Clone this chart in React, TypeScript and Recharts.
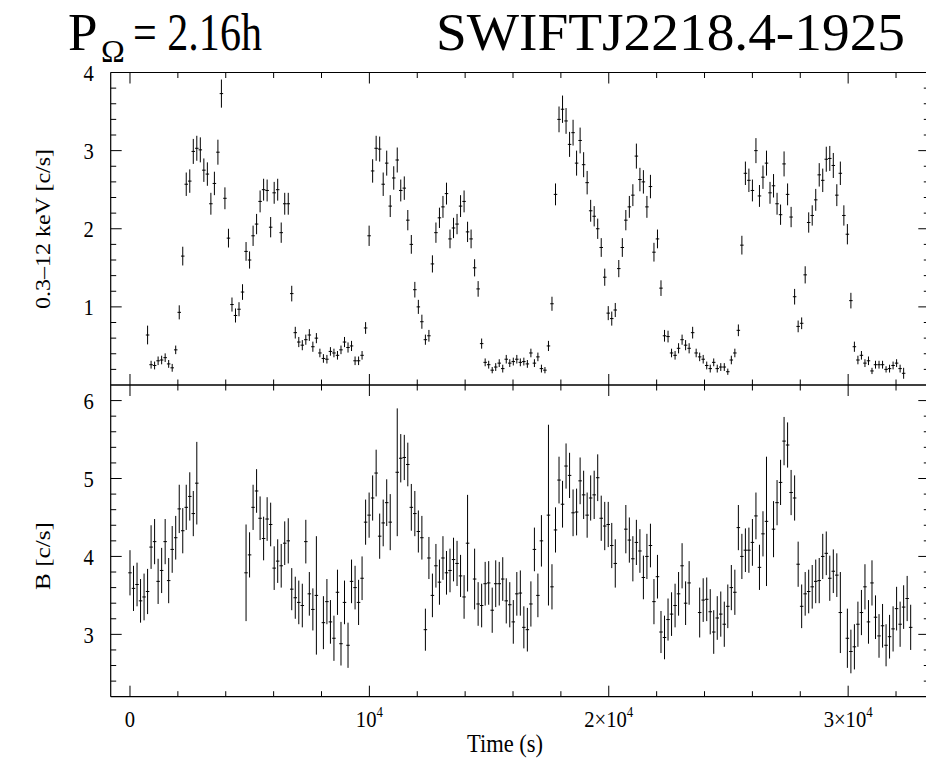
import React from 'react';
import { ScatterChart, Scatter, XAxis, YAxis, ErrorBar } from 'recharts';

// Bin centre times (s), one per 146.9 s bin
const binTime = [
  0, 147, 294, 441, 588, 735, 881, 1028, 1175, 1322,
  1469, 1616, 1763, 1910, 2057, 2204, 2350, 2497, 2644, 2791,
  2938, 3085, 3232, 3379, 3526, 3673, 3819, 3966, 4113, 4260,
  4407, 4554, 4701, 4848, 4995, 5142, 5288, 5435, 5582, 5729,
  5876, 6023, 6170, 6317, 6464, 6611, 6757, 6904, 7051, 7198,
  7345, 7492, 7639, 7786, 7933, 8080, 8226, 8373, 8520, 8667,
  8814, 8961, 9108, 9255, 9402, 9549, 9695, 9842, 9989, 10136,
  10283, 10430, 10577, 10724, 10871, 11018, 11164, 11311, 11458, 11605,
  11752, 11899, 12046, 12193, 12340, 12487, 12633, 12780, 12927, 13074,
  13221, 13368, 13515, 13662, 13809, 13956, 14102, 14249, 14396, 14543,
  14690, 14837, 14984, 15131, 15278, 15425, 15571, 15718, 15865, 16012,
  16159, 16306, 16453, 16600, 16747, 16894, 17040, 17187, 17334, 17481,
  17628, 17775, 17922, 18069, 18216, 18363, 18509, 18656, 18803, 18950,
  19097, 19244, 19391, 19538, 19685, 19832, 19978, 20125, 20272, 20419,
  20566, 20713, 20860, 21007, 21154, 21301, 21447, 21594, 21741, 21888,
  22035, 22182, 22329, 22476, 22623, 22770, 22916, 23063, 23210, 23357,
  23504, 23651, 23798, 23945, 24092, 24239, 24385, 24532, 24679, 24826,
  24973, 25120, 25267, 25414, 25561, 25708, 25854, 26001, 26148, 26295,
  26442, 26589, 26736, 26883, 27030, 27177, 27323, 27470, 27617, 27764,
  27911, 28058, 28205, 28352, 28499, 28646, 28792, 28939, 29086, 29233,
  29380, 29527, 29674, 29821, 29968, 30115, 30261, 30408, 30555, 30702,
  30849, 30996, 31143, 31290, 31437, 31584, 31730, 31877, 32024, 32171,
  32318, 32465, 32612,
];
const halfBin = 73;

// 0.3-12 keV rate (c/s)
const xrtRate = [
  null, null, null, null, null, 0.64, 0.26, 0.25, 0.31, 0.32,
  0.35, 0.27, 0.22, 0.45, 0.93, 1.65, 2.57, 2.61, 2.99, 3.03,
  3.01, 2.75, 2.70, 2.32, 2.58, 2.98, 3.73, 2.39, 1.88, 1.03,
  0.89, 0.97, 1.19, 1.71, 1.60, 1.91, 2.06, 2.35, 2.50, 2.49,
  2.02, 2.46, 2.50, 1.95, 2.32, 2.32, 1.17, 0.67, 0.55, 0.51,
  0.58, 0.64, 0.49, 0.60, 0.41, 0.34, 0.33, 0.43, 0.41, 0.38,
  0.45, 0.55, 0.48, 0.50, 0.31, 0.31, 0.38, 0.73, 1.91, 2.74,
  3.03, 3.02, 2.57, 2.84, 2.29, 2.65, 2.88, 2.49, 2.52, 2.11,
  1.80, 1.22, 1.00, 0.81, 0.58, 0.63, 1.55, 1.95, 2.14, 2.28,
  2.45, 1.87, 2.01, 2.06, 2.29, 2.35, 1.96, 1.87, 1.50, 1.23,
  0.53, 0.29, 0.26, 0.19, 0.23, 0.28, 0.21, 0.33, 0.28, 0.30,
  0.33, 0.29, 0.30, 0.27, 0.41, 0.28, 0.36, 0.21, 0.19, 0.50,
  1.04, 2.44, 3.40, 3.53, 3.38, 3.08, 3.23, 2.84, 3.13, 2.82,
  2.59, 2.23, 2.16, 2.00, 1.76, 1.38, 0.92, 0.85, 0.96, 1.49,
  1.76, 2.11, 2.28, 2.43, 2.93, 2.63, 2.60, 2.28, 2.54, 1.70,
  1.87, 1.24, 0.63, 0.62, 0.41, 0.38, 0.47, 0.58, 0.51, 0.47,
  0.67, 0.41, 0.36, 0.33, 0.25, 0.21, 0.29, 0.21, 0.23, 0.23,
  0.17, 0.32, 0.41, 0.70, 1.79, 2.71, 2.62, 2.49, 3.00, 2.42,
  2.66, 2.84, 2.46, 2.55, 2.32, 2.18, 2.83, 2.44, 2.15, 1.13,
  0.75, 0.79, 1.41, 2.08, 2.17, 2.37, 2.69, 2.62, 2.89, 2.90,
  2.81, 2.43, 2.71, 2.17, 1.93, 1.08, 0.49, 0.32, 0.38, 0.28,
  0.31, 0.18, 0.26, 0.26, 0.26, 0.20, 0.21, 0.25, 0.28, 0.21,
  0.15, null, null,
];
const xrtErr = [
  null, null, null, null, null, 0.12, 0.05, 0.05, 0.055, 0.055,
  0.055, 0.05, 0.05, 0.055, 0.09, 0.12, 0.15, 0.15, 0.16, 0.16,
  0.16, 0.15, 0.15, 0.14, 0.15, 0.16, 0.18, 0.14, 0.12, 0.09,
  0.09, 0.09, 0.10, 0.12, 0.11, 0.13, 0.13, 0.14, 0.14, 0.14,
  0.13, 0.14, 0.14, 0.13, 0.14, 0.14, 0.10, 0.075, 0.065, 0.065,
  0.065, 0.075, 0.065, 0.065, 0.055, 0.055, 0.055, 0.055, 0.055, 0.055,
  0.055, 0.065, 0.065, 0.065, 0.055, 0.055, 0.055, 0.075, 0.13, 0.15,
  0.16, 0.16, 0.15, 0.16, 0.14, 0.15, 0.16, 0.14, 0.15, 0.13,
  0.12, 0.10, 0.09, 0.09, 0.065, 0.075, 0.11, 0.13, 0.13, 0.14,
  0.14, 0.12, 0.13, 0.13, 0.14, 0.14, 0.13, 0.12, 0.11, 0.10,
  0.065, 0.05, 0.05, 0.04, 0.05, 0.05, 0.05, 0.055, 0.05, 0.05,
  0.055, 0.05, 0.05, 0.05, 0.055, 0.05, 0.055, 0.05, 0.04, 0.065,
  0.09, 0.14, 0.165, 0.175, 0.165, 0.16, 0.165, 0.16, 0.165, 0.16,
  0.15, 0.14, 0.13, 0.13, 0.12, 0.11, 0.09, 0.09, 0.09, 0.11,
  0.12, 0.13, 0.14, 0.14, 0.16, 0.15, 0.15, 0.14, 0.15, 0.12,
  0.12, 0.10, 0.075, 0.075, 0.055, 0.055, 0.065, 0.065, 0.065, 0.065,
  0.075, 0.055, 0.055, 0.055, 0.05, 0.05, 0.05, 0.05, 0.05, 0.05,
  0.04, 0.055, 0.055, 0.075, 0.12, 0.15, 0.15, 0.14, 0.16, 0.14,
  0.15, 0.16, 0.14, 0.15, 0.14, 0.13, 0.16, 0.14, 0.13, 0.10,
  0.075, 0.075, 0.11, 0.13, 0.13, 0.14, 0.15, 0.15, 0.16, 0.16,
  0.16, 0.14, 0.15, 0.13, 0.13, 0.10, 0.065, 0.055, 0.055, 0.05,
  0.055, 0.04, 0.05, 0.05, 0.05, 0.04, 0.05, 0.05, 0.05, 0.05,
  0.07, null, null,
];

// B band rate (c/s)
const bRate = [
  3.79, 3.59, 3.64, 3.43, 3.48, 3.55, 4.12, 4.19, 3.68, 3.82,
  4.19, 3.69, 4.09, 4.24, 4.61, 4.33, 4.63, 4.77, 4.55, 4.94,
  null, null, null, null, null, null, null, null, null, null,
  null, null, null, 3.79, 4.02, 4.63, 4.84, 4.49, 4.23, 4.48,
  4.41, 3.85, 3.94, 3.88, 4.17, 4.20, 3.58, 3.47, 3.41, 3.37,
  4.19, 3.52, 3.32, 3.50, null, 3.15, 3.42, 3.16, 2.95, 3.54,
  2.88, 3.41, 2.86, 3.68, 3.60, 3.41, 3.72, 4.44, 4.53, 4.75,
  5.07, 4.26, 4.43, 4.69, 4.44, null, 5.08, 5.26, 5.27, 5.18,
  4.63, 4.55, 4.32, 4.24, 3.06, 3.98, 3.50, 3.88, 3.67, 3.98,
  3.79, 3.82, 3.96, 3.91, 3.75, 3.48, 4.17, null, 3.71, 3.39,
  3.37, 3.65, 3.66, 3.31, 3.65, 3.65, 3.71, 3.43, 3.38, 3.16,
  3.52, 3.53, 3.09, 3.06, 3.39, 4.09, 3.50, 4.20, null, 4.53,
  3.61, 4.34, 4.98, 4.67, 5.16, 5.04, 4.56, 4.57, 4.97, 4.79,
  4.53, 4.75, 4.79, 5.01, 4.49, 4.39, 4.41, 4.14, 3.91, null,
  null, 4.35, 4.21, 3.97, 4.18, 4.07, 3.73, 4.00, 4.14, 3.42,
  3.74, 3.03, 2.96, 3.19, 3.26, 3.37, 3.52, 3.88, 3.40, 3.66,
  null, null, 3.28, 3.44, 3.45, 3.29, 3.03, 3.21, 3.26, 3.13,
  3.36, 3.60, 3.54, 4.37, 4.00, 4.08, 4.08, 4.18, 4.52, 3.86,
  4.29, 4.45, null, 4.35, 4.69, 4.95, 5.48, 5.43, 4.82, 4.75,
  3.90, 3.36, 3.52, 3.55, 3.61, 3.68, 3.69, 4.00, 4.04, 3.72,
  3.81, 3.76, 3.28, null, 2.95, 2.78, 2.84, 3.13, 3.28, 3.61,
  3.16, 3.66, 3.22, 2.98, 3.11, 2.86, 2.97, 3.07, 3.33, 3.13,
  3.35, 3.46, 3.09,
];
const bErr = [
  0.29, 0.29, 0.28, 0.28, 0.30, 0.29, 0.28, 0.29, 0.29, 0.29,
  0.29, 0.29, 0.30, 0.28, 0.31, 0.29, 0.29, 0.31, 0.29, 0.53,
  null, null, null, null, null, null, null, null, null, null,
  null, null, null, 0.62, 0.29, 0.29, 0.28, 0.28, 0.28, 0.28,
  0.28, 0.28, 0.28, 0.28, 0.28, 0.29, 0.27, 0.27, 0.28, 0.28,
  0.28, 0.28, 0.27, 0.76, null, 0.34, 0.29, 0.28, 0.29, 0.29,
  0.28, 0.28, 0.29, 0.28, 0.28, 0.29, 0.28, 0.29, 0.29, 0.29,
  0.30, 0.29, 0.30, 0.30, 0.36, null, 0.82, 0.31, 0.29, 0.28,
  0.30, 0.29, 0.27, 0.28, 0.27, 0.27, 0.28, 0.28, 0.29, 0.28,
  0.28, 0.28, 0.28, 0.29, 0.27, 0.28, 0.62, null, 0.39, 0.28,
  0.28, 0.28, 0.28, 0.29, 0.30, 0.28, 0.28, 0.29, 0.29, 0.28,
  0.28, 0.29, 0.27, 0.28, 0.29, 0.28, 0.28, 0.33, null, 1.16,
  0.29, 0.29, 0.30, 0.30, 0.29, 0.29, 0.30, 0.30, 0.30, 0.31,
  0.29, 0.29, 0.31, 0.30, 0.29, 0.31, 0.29, 0.29, 0.31, null,
  null, 0.31, 0.29, 0.29, 0.29, 0.28, 0.28, 0.29, 0.28, 0.29,
  0.28, 0.27, 0.28, 0.27, 0.28, 0.28, 0.28, 0.29, 0.28, 0.28,
  null, null, 0.32, 0.28, 0.28, 0.29, 0.28, 0.28, 0.29, 0.29,
  0.28, 0.29, 0.29, 0.29, 0.29, 0.28, 0.29, 0.30, 0.30, 0.29,
  0.29, 0.83, null, 0.36, 0.29, 0.29, 0.31, 0.29, 0.29, 0.29,
  0.29, 0.28, 0.28, 0.28, 0.28, 0.28, 0.29, 0.29, 0.28, 0.29,
  0.28, 0.28, 0.52, null, 0.38, 0.28, 0.29, 0.29, 0.29, 0.29,
  0.28, 0.29, 0.28, 0.28, 0.28, 0.27, 0.28, 0.29, 0.28, 0.29,
  0.28, 0.29, 0.29,
];

// Axis ticks
const timeTicks = [0, 2000, 4000, 6000, 8000, 10000, 12000, 14000, 16000, 18000, 20000, 22000, 24000, 26000, 28000, 30000, 32000];
const timeMajor = [0, 10000, 20000, 30000];
const timeLabelBase = ['0', '10', '2×10', '3×10'];
const timeLabelExp = ['', '4', '4', '4'];
const xrtTicks = [0.2, 0.4, 0.6, 0.8, 1, 1.2, 1.4, 1.6, 1.8, 2, 2.2, 2.4, 2.6, 2.8, 3, 3.2, 3.4, 3.6, 3.8, 4];
const xrtLabels = [1, 2, 3, 4];
const bTicks = [2.4, 2.6, 2.8, 3, 3.2, 3.4, 3.6, 3.8, 4, 4.2, 4.4, 4.6, 4.8, 5, 5.2, 5.4, 5.6, 5.8, 6];
const bLabels = [3, 4, 5, 6];

const timeDomain: [number, number] = [-806, 33390];
const xrtDomain: [number, number] = [0, 4];
const bDomain: [number, number] = [2.2, 6.2];

const FONT = '"Liberation Serif", "Times New Roman", Times, serif';
const MAJ = 11;
const MIN = 5.5;
const TICK_FS = 24;

function buildRows(rate: (number | null)[], err: (number | null)[]) {
  const rows: { t: number; v: number; ey: number; ex: number }[] = [];
  binTime.forEach((t, i) => {
    const v = rate[i];
    const e = err[i];
    if (v != null && e != null) rows.push({ t, v, ey: e, ex: halfBin });
  });
  return rows;
}

const xrtRows = buildRows(xrtRate, xrtErr);
const bRows = buildRows(bRate, bErr);

const makeXTick = (dir: 1 | -1, withLabels: boolean) => (props: any) => {
  const { x, y, payload } = props;
  const v = payload.value as number;
  const mi = timeMajor.indexOf(v);
  const len = mi >= 0 ? MAJ : MIN;
  return (
    <g>
      <line x1={x} x2={x} y1={y} y2={y + dir * len} stroke="#000" strokeWidth={1} />
      {withLabels && mi >= 0 && (
        <g transform={`translate(${x},${y + 30}) scale(0.86,1)`}>
          <text x={0} y={0} textAnchor="middle" fontFamily={FONT} fontSize={TICK_FS} fill="#000">
            {timeLabelBase[mi]}
            {timeLabelExp[mi] && (
              <tspan dy={-10} fontSize={15}>
                {timeLabelExp[mi]}
              </tspan>
            )}
          </text>
        </g>
      )}
    </g>
  );
};

const makeYTick = (labels: number[]) => (props: any) => {
  const { x, y, payload } = props;
  const v = payload.value as number;
  const major = Number.isInteger(v);
  const len = major ? MAJ : MIN;
  // inward tick on the left frame, and its mirror on the (cropped) right frame
  const mirrorX = PLOT_RIGHT;
  return (
    <g>
      <line x1={x} x2={x + len} y1={y} y2={y} stroke="#000" strokeWidth={1} />
      <line x1={mirrorX} x2={mirrorX - len} y1={y} y2={y} stroke="#000" strokeWidth={1} />
      {labels.indexOf(v) >= 0 && (
        <g transform={`translate(${x - 17},${y}) scale(0.86,1)`}>
          <text x={0} y={0} dy="0.35em" textAnchor="end" fontFamily={FONT} fontSize={TICK_FS} fill="#000">
            {v}
          </text>
        </g>
      )}
    </g>
  );
};

const noShape = () => <g />;
const axisLine = { stroke: '#000', strokeWidth: 1.2 };

const CHART_W = 945;
const PLOT_LEFT = 110.7;
const PLOT_RIGHT = 929.3;

function Panel(props: {
  rows: any[];
  yDomain: [number, number];
  yTicks: number[];
  yLabels: number[];
  height: number;
  margin: { top: number; right: number; bottom: number; left: number };
  xLabels: boolean;
}) {
  const { rows, yDomain, yTicks, yLabels, height, margin, xLabels } = props;
  return (
    <ScatterChart width={CHART_W} height={height} margin={margin}>
      <XAxis
        xAxisId="bottom"
        orientation="bottom"
        type="number"
        dataKey="t"
        domain={timeDomain}
        allowDataOverflow
        ticks={timeTicks}
        interval={0}
        height={1}
        tickSize={0}
        tickMargin={0}
        tickLine={false}
        axisLine={axisLine}
        tick={makeXTick(-1, xLabels)}
      />
      <XAxis
        xAxisId="top"
        orientation="top"
        type="number"
        dataKey="t"
        domain={timeDomain}
        allowDataOverflow
        ticks={timeTicks}
        interval={0}
        height={1}
        tickSize={0}
        tickMargin={0}
        tickLine={false}
        axisLine={axisLine}
        tick={makeXTick(1, false)}
      />
      <YAxis
        yAxisId="left"
        orientation="left"
        type="number"
        dataKey="v"
        domain={yDomain}
        allowDataOverflow
        ticks={yTicks}
        interval={0}
        width={PLOT_LEFT}
        tickSize={0}
        tickMargin={0}
        tickLine={false}
        axisLine={axisLine}
        tick={makeYTick(yLabels)}
      />
      <Scatter data={rows} xAxisId="bottom" yAxisId="left" isAnimationActive={false} shape={noShape}>
        <ErrorBar dataKey="ey" direction="y" width={0} stroke="#000" strokeWidth={1} isAnimationActive={false} />
        <ErrorBar dataKey="ex" direction="x" width={0} stroke="#000" strokeWidth={1} isAnimationActive={false} />
      </Scatter>
    </ScatterChart>
  );
}

export default function App() {
  const rightMargin = CHART_W - PLOT_RIGHT;
  return (
    <div
      style={{
        position: 'absolute',
        left: 0,
        top: 0,
        width: 926,
        height: 766,
        overflow: 'hidden',
        background: '#fff',
        fontFamily: FONT,
      }}
    >
      <div style={{ position: 'absolute', left: 0, top: 0 }}>
        <Panel
          rows={xrtRows}
          yDomain={xrtDomain}
          yTicks={xrtTicks}
          yLabels={xrtLabels}
          height={386}
          margin={{ top: 71.5, right: rightMargin, bottom: 0, left: 0 }}
          xLabels={false}
        />
      </div>
      <div style={{ position: 'absolute', left: 0, top: 384 }}>
        <Panel
          rows={bRows}
          yDomain={bDomain}
          yTicks={bTicks}
          yLabels={bLabels}
          height={382}
          margin={{ top: 0, right: rightMargin, bottom: 68.3, left: 0 }}
          xLabels={true}
        />
      </div>
      <svg
        width={926}
        height={766}
        style={{ position: 'absolute', left: 0, top: 0, pointerEvents: 'none' }}
      >
        <text x={68} y={50} fontFamily={FONT} fontSize={53} fill="#000">
          P
        </text>
        <text x={101} y={62} fontFamily={FONT} fontSize={32} fill="#000">
          Ω
        </text>
        <text
          x={133}
          y={50}
          fontFamily={FONT}
          fontSize={53}
          fill="#000"
          textLength={129}
          lengthAdjust="spacingAndGlyphs"
        >
          = 2.16h
        </text>
        <text
          x={436}
          y={50}
          fontFamily={FONT}
          fontSize={53}
          fill="#000"
          textLength={469}
          lengthAdjust="spacingAndGlyphs"
        >
          SWIFTJ2218.4-1925
        </text>
        <text
          x={50}
          y={229}
          transform="rotate(-90 50 229)"
          textAnchor="middle"
          fontFamily={FONT}
          fontSize={21}
          fill="#000"
          textLength={160}
          lengthAdjust="spacingAndGlyphs"
        >
          0.3–12 keV [c/s]
        </text>
        <text
          x={50}
          y={556}
          transform="rotate(-90 50 556)"
          textAnchor="middle"
          fontFamily={FONT}
          fontSize={21}
          fill="#000"
          textLength={68}
          lengthAdjust="spacingAndGlyphs"
        >
          B [c/s]
        </text>
        <g transform="translate(505,752) scale(0.9,1)">
          <text x={0} y={0} textAnchor="middle" fontFamily={FONT} fontSize={25} fill="#000">
            Time (s)
          </text>
        </g>
      </svg>
    </div>
  );
}
